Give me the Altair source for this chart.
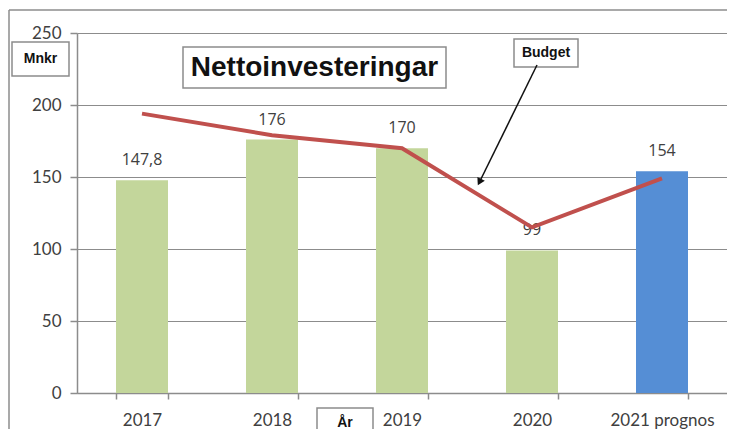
import altair as alt
import pandas as pd

years = ["2017", "2018", "2019", "2020", "2021 prognos"]
values = [147.8, 176, 170, 99, 154]
value_labels = ["147,8", "176", "170", "99", "154"]
budget = [194, 179, 170, 115, 149]
bar_colors = ["#C3D69B", "#C3D69B", "#C3D69B", "#C3D69B", "#558ED5"]
y_ticks = [0, 50, 100, 150, 200, 250]

df = pd.DataFrame({"year": years, "value": values, "label": value_labels,
                   "budget": budget, "color": bar_colors})

W, H = 650, 360
GRAY = "#8C8C8C"
TXT = "#404040"

x = alt.X("year:N", sort=years, title=None,
          scale=alt.Scale(paddingInner=0.6, paddingOuter=0.3),
          axis=alt.Axis(labelAngle=0, labelFont="Lato", labelFontSize=17, labelColor=TXT,
                        domainColor=GRAY, domainWidth=1.5, tickColor=GRAY, tickWidth=1.5,
                        tickSize=6, tickBand="extent", labelPadding=13, grid=False))
y = alt.Y("value:Q", title=None,
          scale=alt.Scale(domain=[0, 250], nice=False),
          axis=alt.Axis(values=y_ticks, labelFont="Lato", labelFontSize=17, labelColor=TXT,
                        domainColor=GRAY, domainWidth=1.5, tickColor=GRAY, tickWidth=1.5,
                        tickSize=7, labelPadding=9, grid=True, gridColor=GRAY, gridWidth=1))

base = alt.Chart(df)
bars = base.mark_bar().encode(x=x, y=y, color=alt.Color("color:N", scale=None))
labels = base.mark_text(font="Open Sans", fontSize=16, color=TXT, dy=-20).encode(
    x=alt.X("year:N", sort=years), y=alt.Y("value:Q"), text="label:N")
line = base.mark_line(color="#C0504D", strokeWidth=4).encode(
    x=alt.X("year:N", sort=years), y=alt.Y("budget:Q"))

one = alt.Data(values=[{"a": 1}])

def box(x1, x2, y1, y2, sw=1.5):
    return alt.Chart(one).mark_rect(filled=False, stroke=GRAY, strokeWidth=sw, fill="white", fillOpacity=1).encode(
        x=alt.value(x1), x2=alt.value(x2), y=alt.value(y1), y2=alt.value(y2))

def txt(t, cx, cy, size, font="Liberation Sans"):
    return alt.Chart(alt.Data(values=[{"t": t}])).mark_text(
        font=font, fontSize=size, fontWeight="bold", color="#111111", align="center", baseline="middle"
    ).encode(x=alt.value(cx), y=alt.value(cy), text="t:N")

outer_top = alt.Chart(one).mark_rule(color=GRAY, strokeWidth=1.5).encode(
    x=alt.value(-68), x2=alt.value(660), y=alt.value(-23))
outer_left = alt.Chart(one).mark_rule(color=GRAY, strokeWidth=1.5).encode(
    x=alt.value(-68), y=alt.value(-23), y2=alt.value(440))

title_box = box(106, 369, 14, 55)
title_txt = txt("Nettoinvesteringar", 237.5, 35, 28)
mnkr_box = box(-65, -8, 9, 43)
mnkr_txt = txt("Mnkr", -36.5, 26, 14)
budget_box = box(437, 501, 6, 34)
budget_txt = txt("Budget", 469, 20, 14)
ar_box = box(240, 296, 375, 430)
ar_txt = txt("År", 268, 390, 14)

arrow = alt.Chart(one).mark_rule(color="#111111", strokeWidth=1.5).encode(
    x=alt.value(460), y=alt.value(32), x2=alt.value(403), y2=alt.value(148))
head = alt.Chart(one).mark_point(shape="triangle", filled=True, color="#111111", size=70, angle=207, opacity=1).encode(
    x=alt.value(403), y=alt.value(148))

chart = alt.layer(outer_top, outer_left, bars, labels, line, title_box, title_txt, mnkr_box, mnkr_txt,
                  budget_box, budget_txt, arrow, head, ar_box, ar_txt).properties(
    width=W, height=H,
    autosize=alt.AutoSizeParams(type="none"),
    padding={"left": 69, "top": 25, "right": 0, "bottom": 36},
).configure_view(strokeWidth=0).configure(background="white")

chart.save("out.html", embed_options={"renderer": "svg", "actions": False})
